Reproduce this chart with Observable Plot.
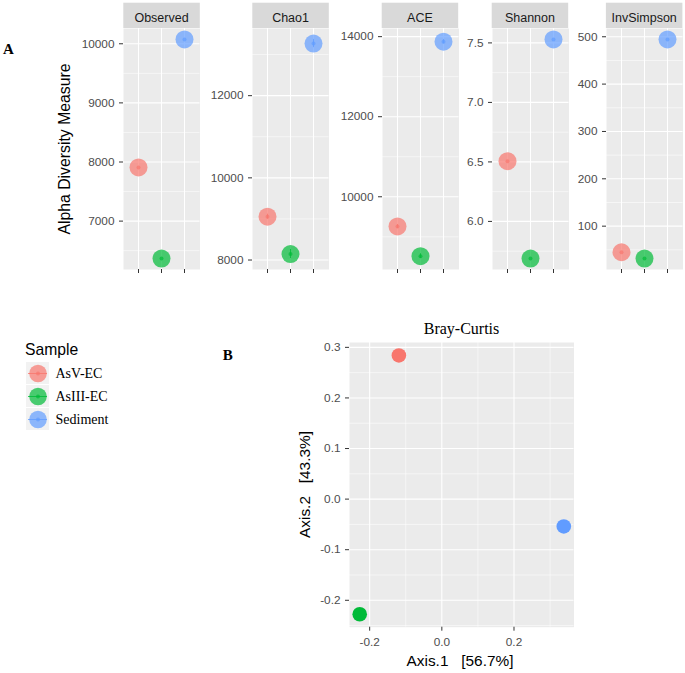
<!DOCTYPE html>
<html><head><meta charset="utf-8">
<script src="https://cdn.jsdelivr.net/npm/d3@7"></script>
<script src="https://cdn.jsdelivr.net/npm/@observablehq/plot@0.6"></script>
<style>
html,body{margin:0;padding:0;background:#fff;}
#chart{position:relative;width:685px;height:673px;overflow:hidden;background:#fff;}
.pw{position:absolute;}
</style></head><body><div id="chart"></div>
<script>
// ---- data ----
const samples = ["AsV-EC", "AsIII-EC", "Sediment"];
const sampleColors = ["#F8766D", "#00BA38", "#619CFF"];

const observed = [7908, 6367, 10073];
const chao1 = [9056, 8146, 13268];
const chao1SE = [60, 110, 100];
const ace = [9258, 8517, 13875];
const aceSE = [50, 60, 55];
const shannon = [6.506, 5.688, 7.529];
const invSimpson = [44.9, 31.6, 494.3];

const observedTicks = [7000, 8000, 9000, 10000];
const observedMinor = [6500, 7500, 8500, 9500, 10500];
const chao1Ticks = [8000, 10000, 12000];
const chao1Minor = [7000, 9000, 11000, 13000];
const aceTicks = [10000, 12000, 14000];
const aceMinor = [9000, 11000, 13000];
const shannonTicks = [6.0, 6.5, 7.0, 7.5];
const shannonMinor = [5.75, 6.25, 6.75, 7.25];
const invSimpsonTicks = [100, 200, 300, 400, 500];
const invSimpsonMinor = [50, 150, 250, 350, 450];

const axis1 = [-0.119, -0.2276, 0.338];
const axis2 = [0.284, -0.2276, -0.054];
const axis1Ticks = [-0.2, 0.0, 0.2];
const axis1Minor = [-0.1, 0.1, 0.3];
const axis2Ticks = [-0.2, -0.1, 0.0, 0.1, 0.2, 0.3];
const axis2Minor = [-0.25, -0.15, -0.05, 0.05, 0.15, 0.25];

// ---- layout helpers ----
const chart = document.getElementById("chart");
function place(node, left, top) {
  const d = document.createElement("div");
  d.className = "pw";
  d.style.left = left + "px";
  d.style.top = top + "px";
  d.appendChild(node);
  chart.appendChild(d);
}
const SANS = "'Liberation Sans', Arial, sans-serif";
const SERIF = "'Liberation Serif', 'Times New Roman', serif";
const baseStyle = {background: "transparent", fontFamily: SANS, fontSize: "11.8px", color: "#4D4D4D", overflow: "visible", maxWidth: "none"};
function expand(lo, hi) { const p = (hi - lo) * 0.05; return [lo - p, hi + p]; }

const PANEL_TOP = 28, PANEL_H = 241, PANEL_W = 76.5, ML = 46, MB = 10, STRIP_TOP = 2.7;
const panels = [
  {name: "Observed", values: observed, se: null, ticks: observedTicks, minor: observedMinor, fmt: d => String(d), left: 123.3},
  {name: "Chao1", values: chao1, se: chao1SE, ticks: chao1Ticks, minor: chao1Minor, fmt: d => String(d), left: 252.3},
  {name: "ACE", values: ace, se: aceSE, ticks: aceTicks, minor: aceMinor, fmt: d => String(d), left: 381.7},
  {name: "Shannon", values: shannon, se: null, ticks: shannonTicks, minor: shannonMinor, fmt: d => d.toFixed(1), left: 491.7},
  {name: "InvSimpson", values: invSimpson, se: null, ticks: invSimpsonTicks, minor: invSimpsonMinor, fmt: d => String(d), left: 605.9}
];

for (const p of panels) {
  const data = samples.map((s, i) => ({sample: s, value: p.values[i], se: p.se ? p.se[i] : 0}));
  const [y0, y1] = expand(d3.min(data, d => d.value - d.se), d3.max(data, d => d.value + d.se));
  const inside = v => v >= y0 && v <= y1;
  const svg = Plot.plot({
    width: ML + PANEL_W, height: PANEL_H + MB,
    marginLeft: ML, marginRight: 0, marginTop: 0, marginBottom: MB,
    style: baseStyle,
    x: {type: "point", domain: samples, padding: 0.6},
    y: {domain: [y0, y1]},
    color: {domain: samples, range: sampleColors},
    marks: [
      Plot.frame({fill: "#EBEBEB", stroke: "none"}),
      Plot.ruleY(p.minor.filter(inside), {stroke: "white", strokeWidth: 0.55}),
      Plot.ruleY(p.ticks.filter(inside), {stroke: "white", strokeWidth: 1.1}),
      Plot.ruleX(samples, {x: d => d, stroke: "white", strokeWidth: 1.1}),
      Plot.axisY(p.ticks.filter(inside), {tickSize: 4, tickPadding: 5, stroke: "#333333", fill: "#4D4D4D", tickFormat: p.fmt, label: null}),
      Plot.axisX(samples, {tickSize: 4, stroke: "#333333", fill: "none", label: null}),
      Plot.ruleX(data.filter(d => d.se > 0), {x: "sample", y1: d => d.value - d.se, y2: d => d.value + d.se, stroke: "sample", strokeOpacity: 0.8}),
      Plot.dot(data, {x: "sample", y: "value", r: 9, fill: "sample", fillOpacity: 0.7, stroke: "none"}),
      Plot.dot(data, {x: "sample", y: "value", r: 2, fill: "sample", fillOpacity: 0.7, stroke: "none"})
    ]
  });
  place(svg, p.left - ML, PANEL_TOP);
}

// ---- Bray-Curtis ordination ----
const ord = samples.map((s, i) => ({sample: s, a1: axis1[i], a2: axis2[i]}));
const BX = expand(d3.min(axis1), d3.max(axis1));
const BY = expand(d3.min(axis2), d3.max(axis2));
const B_LEFT = 348.8, B_TOP = 342, B_W = 224.5, B_H = 284.7, ML2 = 42, MB2 = 26;
const bray = Plot.plot({
  width: ML2 + B_W, height: B_H + MB2,
  marginLeft: ML2, marginRight: 0, marginTop: 0, marginBottom: MB2,
  style: baseStyle,
  x: {domain: BX},
  y: {domain: BY},
  color: {domain: samples, range: sampleColors},
  marks: [
    Plot.frame({fill: "#EBEBEB", stroke: "none"}),
    Plot.ruleX(axis1Minor.filter(v => v >= BX[0] && v <= BX[1]), {stroke: "white", strokeWidth: 0.55}),
    Plot.ruleY(axis2Minor.filter(v => v >= BY[0] && v <= BY[1]), {stroke: "white", strokeWidth: 0.55}),
    Plot.ruleX(axis1Ticks, {stroke: "white", strokeWidth: 1.1}),
    Plot.ruleY(axis2Ticks, {stroke: "white", strokeWidth: 1.1}),
    Plot.axisX(axis1Ticks, {tickSize: 4, tickPadding: 6, stroke: "#333333", fill: "#4D4D4D", tickFormat: d => d.toFixed(1), label: null}),
    Plot.axisY(axis2Ticks, {tickSize: 4, tickPadding: 5, stroke: "#333333", fill: "#4D4D4D", tickFormat: d => d.toFixed(1), label: null}),
    Plot.dot(ord, {x: "a1", y: "a2", r: 7.3, fill: "sample", stroke: "none"})
  ]
});
place(bray, B_LEFT - ML2, B_TOP);

// ---- legend (drawn with Plot) ----
const legend = Plot.plot({
  width: 130, height: 72,
  marginLeft: 26, marginRight: 80.7, marginTop: 0, marginBottom: 0,
  style: {...baseStyle, fontFamily: SERIF, fontSize: "14px", color: "#000"},
  x: {type: "band", domain: ["key"], padding: 0, axis: null},
  y: {type: "band", domain: samples, padding: 0.05, axis: null},
  color: {domain: samples, range: sampleColors},
  marks: [
    Plot.cell(samples, {x: () => "key", y: d => d, fill: "#F2F2F2"}),
    Plot.tickY(samples, {x: () => "key", y: d => d, stroke: d => d, strokeOpacity: 0.8, insetLeft: 2, insetRight: 2}),
    Plot.dot(samples, {x: () => "key", y: d => d, r: 8.8, fill: d => d, fillOpacity: 0.7, stroke: "none"}),
    Plot.dot(samples, {x: () => "key", y: d => d, r: 2, fill: d => d, fillOpacity: 0.7, stroke: "none"}),
    Plot.text(samples, {x: () => "key", y: d => d, text: d => d, textAnchor: "start", dx: 17.5, fill: "#000"})
  ]
});
place(legend, 0, 360);

// ---- overlay texts: strips, titles, panel letters ----
const ov = d3.select(chart).append("svg")
  .attr("width", 685).attr("height", 673)
  .style("position", "absolute").style("left", "0px").style("top", "0px")
  .style("pointer-events", "none");

for (const p of panels) {
  ov.append("rect").attr("x", p.left).attr("y", STRIP_TOP).attr("width", PANEL_W).attr("height", PANEL_TOP - STRIP_TOP).attr("fill", "#D9D9D9");
  ov.append("text").attr("x", p.left + PANEL_W / 2).attr("y", 22).attr("text-anchor", "middle")
    .attr("font-family", SANS).attr("font-size", 12.5).attr("fill", "#1A1A1A").text(p.name);
}
ov.append("text").attr("transform", "translate(70,149) rotate(-90)").attr("text-anchor", "middle")
  .attr("font-family", SANS).attr("font-size", 15.8).attr("fill", "#000").text("Alpha Diversity Measure");
ov.append("text").attr("x", 3).attr("y", 54).attr("font-family", SERIF).attr("font-weight", "bold").attr("font-size", 15).attr("fill", "#000").text("A");
ov.append("text").attr("x", 222.7).attr("y", 360).attr("font-family", SERIF).attr("font-weight", "bold").attr("font-size", 15).attr("fill", "#000").text("B");
ov.append("text").attr("x", 25).attr("y", 355).attr("font-family", SANS).attr("font-size", 15.7).attr("fill", "#000").text("Sample");
ov.append("text").attr("x", 461.5).attr("y", 334.3).attr("text-anchor", "middle").attr("font-family", SERIF).attr("font-size", 16).attr("fill", "#000").text("Bray-Curtis");
ov.append("text").attr("x", 460).attr("y", 666).attr("text-anchor", "middle").style("white-space", "pre")
  .attr("font-family", SANS).attr("font-size", 15.4).attr("fill", "#000").text("Axis.1   [56.7%]");
ov.append("text").attr("transform", "translate(310,484.5) rotate(-90)").attr("text-anchor", "middle").style("white-space", "pre")
  .attr("font-family", SANS).attr("font-size", 15.4).attr("fill", "#000").text("Axis.2   [43.3%]");
</script></body></html>
